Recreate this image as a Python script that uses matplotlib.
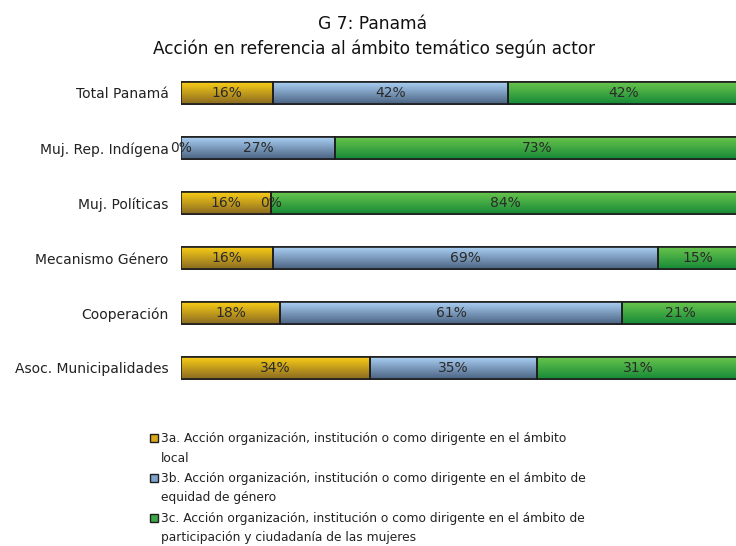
import matplotlib
matplotlib.use("Agg")
import matplotlib.pyplot as plt
import numpy as np
from matplotlib.patches import Rectangle
from matplotlib.colors import LinearSegmentedColormap

plt.rcParams['font.family'] = ['DejaVu Sans']

categories = ["Total Panamá", "Muj. Rep. Indígena", "Muj. Políticas",
              "Mecanismo Género", "Cooperación", "Asoc. Municipalidades"]
# segment widths as drawn (share of bar)
local_vals = [16.4, 0.0, 16.2, 16.4, 17.8, 33.9]
equidad_vals = [42.2, 27.6, 0.0, 69.0, 61.3, 29.9]
particip_vals = [41.4, 72.4, 83.8, 14.6, 20.9, 36.2]
# labels as printed
local_labels = ["16%", "0%", "16%", "16%", "18%", "34%"]
equidad_labels = ["42%", "27%", "0%", "69%", "61%", "35%"]
particip_labels = ["42%", "73%", "84%", "15%", "21%", "31%"]
series_names = [
    "3a. Acción organización, institución o como dirigente en el ámbito\nlocal",
    "3b. Acción organización, institución o como dirigente en el ámbito de\nequidad de género",
    "3c. Acción organización, institución o como dirigente en el ámbito de\nparticipación y ciudadanía de las mujeres",
]

W, H = 736, 546
fig = plt.figure(figsize=(W / 100, H / 100), dpi=100)
ax = fig.add_axes([181 / W, 1 - 395.5 / H, (739 - 181) / W, 330 / H])

grads = [
    ("#f9cd16", "#8a6a22"),
    ("#a9cff2", "#4b6383"),
    ("#68c44c", "#178a38"),
]
solid = ["#d9a81c", "#7fa3cc", "#3aa844"]

y = np.arange(len(categories))
left = np.zeros(len(categories))
all_vals = [local_vals, equidad_vals, particip_vals]
all_labels = [local_labels, equidad_labels, particip_labels]
bh = 0.4
for s, (vals, labs) in enumerate(zip(all_vals, all_labels)):
    vals = np.array(vals)
    bars = ax.barh(y, vals, left=left, height=bh, color=solid[s],
                   edgecolor="#1e1e1e", linewidth=1.2, zorder=3)
    cmap = LinearSegmentedColormap.from_list("g", [grads[s][0], grads[s][1]])
    for b, v, l0 in zip(bars, vals, left):
        if v <= 0:
            continue
        grad = np.linspace(0, 1, 64).reshape(-1, 1)
        im = ax.imshow(grad, cmap=cmap, aspect="auto",
                       extent=[l0, l0 + v, b.get_y() + bh, b.get_y()],
                       zorder=3.5, interpolation="bilinear")
        im.set_clip_path(b)
        edge = Rectangle((l0, b.get_y()), v, bh, fill=False,
                         edgecolor="#1e1e1e", linewidth=1.2, zorder=4)
        ax.add_patch(edge)
    for yi, v, l0, lab in zip(y, vals, left, labs):
        ax.text(l0 + v / 2, yi, lab, ha="center", va="center",
                fontsize=10, color="#2a2a2a", zorder=5)
    left = left + vals

ax.set_xlim(0, 100)
ax.set_ylim(len(categories) - 0.5, -0.5)
ax.set_yticks(y)
ax.set_yticklabels(categories, fontsize=10, color="#222222")
ax.tick_params(axis="y", length=0, pad=9)
ax.set_xticks([])
for sp in ax.spines.values():
    sp.set_visible(False)

fig.text(373 / W, 1 - 24 / H, "G 7: Panamá", ha="center", va="center",
         fontsize=12.3, color="#111111")
fig.text(374 / W, 1 - 49 / H, "Acción en referencia al ámbito temático según actor",
         ha="center", va="center", fontsize=12.2, color="#111111")

legend_y = [438, 478, 518]
for s, (name, ly) in enumerate(zip(series_names, legend_y)):
    rect = Rectangle((150 / W, 1 - (ly + 4) / H), 8 / W, 8 / H,
                     transform=fig.transFigure, facecolor=solid[s],
                     edgecolor="#1e1e1e", linewidth=1.0)
    fig.patches.append(rect)
    fig.text(161 / W, 1 - (ly - 6) / H, name, ha="left", va="top",
             fontsize=8.8, color="#222222", linespacing=1.65)

fig.savefig("out.png", dpi=100)
